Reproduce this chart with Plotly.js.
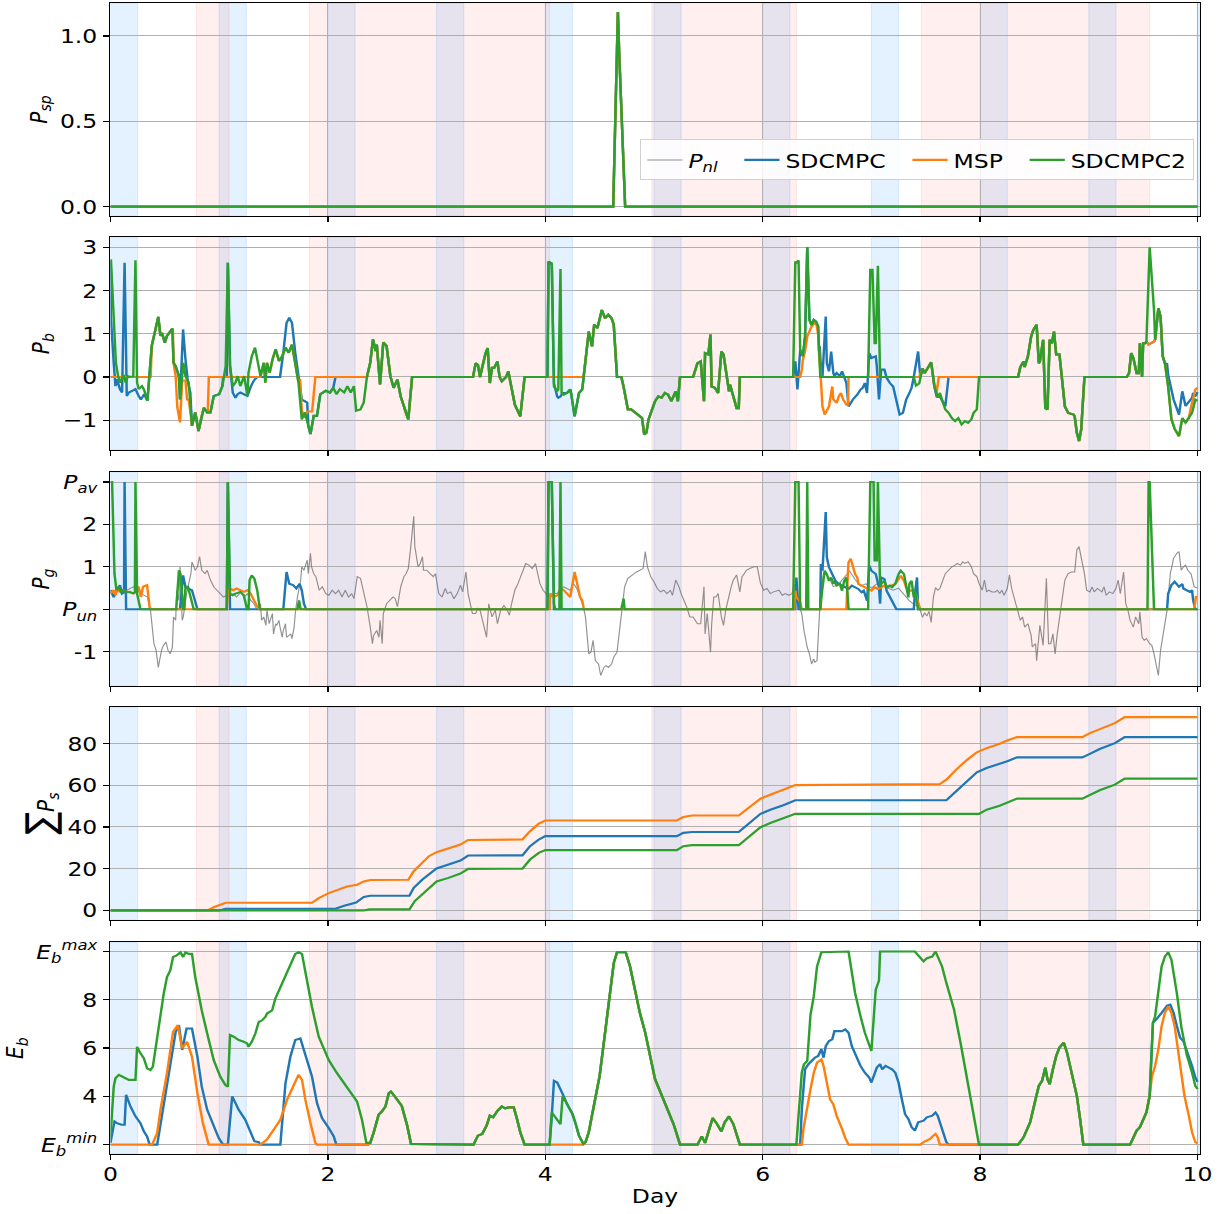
<!DOCTYPE html>
<html>
<head>
<meta charset="utf-8">
<script src="https://cdn.plot.ly/plotly-3.0.1.min.js"></script>
<style>
html,body{margin:0;padding:0;background:#fff;overflow:hidden;}
#chart{width:1041px;height:1214px;transform:scale(1.175,1);transform-origin:0 0;}
</style>
</head>
<body>
<div id="chart"></div>
<script>
// ---------------- DATA (day, value) ----------------
const blueBands = [[0,0.25],[1,1.25],[2,2.25],[3,3.25],[4,4.25],[5,5.25],[6,6.25],[7,7.25],[8,8.25],[9,9.25],[10,10.25]];
const redBands = [[0.79,1.09],[1.83,4.04],[4.98,6.31],[7.46,9.56]];

// Panel 1: P_sp
const pspAll = [[0,0],[4.625,0],[4.668,1.14],[4.68,0.9],[4.735,0],[10,0]];

// Panel 2: P_b (SDCMPC2 = base; other series differ in listed segments)
const pbGreen = [[0.0,2.70],[0.005,2.70],[0.05,0.33],[0.07,0.02],[0.09,-0.13],[0.12,0.05],[0.14,-0.13],[0.16,0.02],[0.18,0.0],[0.21,0.02],[0.23,2.70],[0.245,-0.13],[0.26,-0.28],[0.29,-0.21],[0.31,-0.30],[0.34,-0.55],[0.38,0.72],[0.40,0.95],[0.44,1.39],[0.46,0.95],[0.475,1.02],[0.50,0.79],[0.52,0.95],[0.57,1.12],[0.58,0.33],[0.60,0.25],[0.63,0.02],[0.64,-0.52],[0.67,0.33],[0.69,0.02],[0.72,-0.13],[0.75,-1.13],[0.78,-0.82],[0.81,-1.25],[0.84,-0.90],[0.86,-0.71],[0.89,-0.82],[0.92,-0.82],[0.95,-0.44],[1.00,-0.40],[1.03,-0.21],[1.06,0.25],[1.08,2.64],[1.10,0.25],[1.125,-0.21],[1.15,-0.13],[1.17,0.02],[1.195,-0.21],[1.23,0.02],[1.26,-0.44],[1.27,0.10],[1.30,0.48],[1.33,0.68],[1.36,0.33],[1.38,0.02],[1.41,0.33],[1.425,-0.13],[1.44,0.33],[1.465,0.10],[1.49,0.40],[1.52,0.64],[1.55,0.37],[1.58,0.48],[1.61,0.68],[1.64,0.56],[1.67,0.75],[1.695,0.33],[1.73,-0.13],[1.76,-0.98],[1.79,-0.82],[1.82,-1.13],[1.84,-1.32],[1.87,-0.90],[1.90,-0.90],[1.93,-0.40],[1.98,-0.32],[2.02,-0.36],[2.05,-0.25],[2.08,-0.40],[2.11,-0.28],[2.15,-0.36],[2.18,-0.21],[2.21,-0.36],[2.24,-0.21],[2.26,-0.78],[2.30,-0.75],[2.33,-0.59],[2.36,0.02],[2.39,0.33],[2.415,0.87],[2.44,0.60],[2.45,0.75],[2.48,-0.17],[2.51,0.80],[2.54,0.72],[2.575,0.02],[2.605,-0.25],[2.64,-0.06],[2.67,-0.45],[2.70,-0.68],[2.71,-0.79],[2.74,-0.98],[2.775,0.0],[3.335,0.0],[3.36,0.32],[3.38,0.28],[3.40,0.0],[3.42,0.25],[3.45,0.55],[3.47,0.67],[3.49,-0.14],[3.51,0.21],[3.53,0.21],[3.56,0.36],[3.58,0.0],[3.60,-0.10],[3.64,0.0],[3.66,0.13],[3.68,-0.14],[3.72,-0.64],[3.77,-0.91],[3.81,0.0],[4.02,0.0],[4.03,2.67],[4.06,2.63],[4.08,-0.22],[4.11,-0.33],[4.12,-0.29],[4.14,2.50],[4.15,-0.37],[4.17,-0.41],[4.20,-0.37],[4.23,-0.29],[4.24,-0.41],[4.27,-0.91],[4.31,-0.37],[4.34,-0.29],[4.36,0.17],[4.38,0.63],[4.40,1.05],[4.43,0.71],[4.45,1.21],[4.48,1.13],[4.50,1.32],[4.52,1.55],[4.55,1.36],[4.58,1.44],[4.61,1.36],[4.63,1.21],[4.66,0.0],[4.70,0.0],[4.72,-0.22],[4.76,-0.75],[4.79,-0.75],[4.81,-0.79],[4.86,-0.87],[4.89,-0.95],[4.91,-1.33],[4.93,-1.29],[4.95,-0.98],[4.98,-0.75],[5.01,-0.56],[5.04,-0.45],[5.07,-0.48],[5.10,-0.37],[5.13,-0.41],[5.16,-0.56],[5.20,-0.33],[5.22,-0.56],[5.24,0.0],[5.36,0.0],[5.40,0.32],[5.43,0.36],[5.46,-0.56],[5.47,0.55],[5.50,0.52],[5.52,0.98],[5.53,-0.22],[5.56,-0.25],[5.59,-0.37],[5.62,0.59],[5.64,0.52],[5.69,-0.33],[5.70,-0.18],[5.73,-0.45],[5.76,-0.72],[5.78,-0.72],[5.79,0.0],[6.28,0.0],[6.30,2.67],[6.31,2.63],[6.33,2.70],[6.345,0.63],[6.37,0.48],[6.39,0.94],[6.41,3.0],[6.43,1.32],[6.45,1.20],[6.47,1.32],[6.49,1.28],[6.51,1.17],[6.52,0.48],[6.53,0.0],[6.97,0.0],[6.99,2.48],[7.01,2.48],[7.03,0.78],[7.04,0.78],[7.06,2.57],[7.08,0.0],[7.39,0.0],[7.41,-0.20],[7.44,-0.15],[7.47,0.20],[7.49,0.09],[7.51,0.17],[7.55,0.34],[7.58,-0.22],[7.61,-0.48],[7.63,-0.37],[7.66,-0.60],[7.68,-0.75],[7.71,-0.83],[7.74,-0.95],[7.77,-1.02],[7.80,-0.95],[7.83,-1.10],[7.86,-1.02],[7.89,-1.06],[7.92,-0.98],[7.94,-0.83],[7.97,-0.75],[7.99,0.0],[8.35,0.0],[8.37,0.23],[8.40,0.36],[8.41,0.23],[8.44,0.48],[8.47,0.94],[8.49,1.09],[8.52,1.21],[8.54,0.32],[8.55,0.36],[8.58,0.86],[8.60,-0.72],[8.62,-0.75],[8.64,0.86],[8.66,0.78],[8.68,1.05],[8.70,0.52],[8.73,0.52],[8.75,0.0],[8.78,-0.68],[8.81,-0.83],[8.86,-0.87],[8.87,-0.91],[8.89,-1.29],[8.91,-1.48],[8.93,-1.22],[8.96,0.0],[9.35,0.0],[9.37,0.09],[9.39,0.55],[9.41,0.44],[9.44,0.09],[9.46,0.09],[9.47,0.78],[9.49,0.0],[9.50,0.78],[9.52,0.78],[9.53,0.82],[9.56,3.0],[9.60,1.55],[9.61,0.86],[9.63,1.48],[9.64,1.59],[9.66,1.40],[9.68,0.48],[9.70,0.32],[9.73,-0.22],[9.76,-0.98],[9.79,-1.20],[9.83,-1.37],[9.86,-0.95],[9.89,-1.06],[9.92,-0.95],[9.95,-0.83],[9.98,-0.52],[10.0,-0.55]];

const pbBlueSegs = [
 [[0.005,1.33],[0.03,0.33],[0.046,-0.21],[0.06,-0.05],[0.087,-0.28],[0.107,-0.36],[0.13,2.64],[0.15,-0.44],[0.169,-0.36],[0.20,-0.32],[0.23,-0.28],[0.26,-0.44],[0.28,-0.52],[0.31,-0.40],[0.34,-0.55]],
 [[0.64,-0.52],[0.668,1.10],[0.69,0.41],[0.713,-0.13],[0.735,-0.36]],
 [[1.036,0.0],[1.07,0.0]],
 [[1.10,0.25],[1.125,-0.36],[1.15,-0.48],[1.17,-0.40],[1.195,-0.36],[1.23,-0.40],[1.26,-0.44],[1.29,-0.23],[1.32,-0.08],[1.35,0.0],[1.56,0.0],[1.59,0.56],[1.62,1.25],[1.645,1.37],[1.67,1.25],[1.70,0.56],[1.73,-0.05],[1.76,-0.52],[1.78,-0.55],[1.81,-0.59]],
 [[2.07,0.0],[2.36,0.0]],
 [[4.06,2.60],[4.08,-0.15],[4.11,-0.45],[4.12,-0.48],[4.14,-0.45],[4.15,-0.41],[4.17,-0.37]],
 [[6.28,0.0],[6.30,0.36],[6.32,-0.29],[6.335,0.30]],
 [[6.525,0.71],[6.54,0.0],[6.55,0.0],[6.58,1.40],[6.59,0.32],[6.61,0.13],[6.63,0.59],[6.65,0.09],[6.66,0.02],[6.68,0.09],[6.71,0.02],[6.73,0.13],[6.74,0.05],[6.77,-0.14],[6.79,-0.68],[6.80,-0.64],[6.83,-0.52],[6.87,-0.41],[6.90,-0.29],[6.92,-0.25],[6.94,-0.14],[6.96,-0.37],[6.98,0.55],[7.00,0.44],[7.04,0.48],[7.05,0.25],[7.07,-0.52],[7.09,0.17],[7.12,0.17],[7.14,-0.02],[7.17,-0.14],[7.20,-0.22],[7.23,-0.52],[7.26,-0.87],[7.29,-0.83],[7.32,-0.52],[7.35,-0.37],[7.37,-0.25],[7.39,0.0],[7.41,0.32],[7.43,0.59],[7.45,0.0]],
 [[7.60,-0.45],[7.63,-0.45],[7.68,-0.68],[7.71,0.0],[7.99,0.0]],
 [[9.53,0.82],[9.55,0.75],[9.60,0.82],[9.61,0.86]],
 [[9.72,0.30],[9.73,0.05],[9.75,-0.22],[9.78,-0.52],[9.83,-0.87],[9.86,-0.33],[9.89,-0.67],[9.92,-0.56],[9.95,-0.48],[9.96,-0.37],[9.98,-0.45],[10.0,-0.35]]
];

const pbOrangeSegs = [
 [[0.0,0.0],[0.37,0.0]],
 [[0.575,1.0],[0.58,0.33],[0.60,0.02],[0.615,-0.70],[0.64,-1.05],[0.66,-0.08],[0.69,-0.08],[0.705,-0.52],[0.72,-0.52],[0.74,-0.90]],
 [[0.895,-0.85],[0.905,0.0],[1.38,0.0]],
 [[1.745,-0.05],[1.76,-0.78],[1.79,-0.94],[1.81,-0.80],[1.855,-0.80],[1.885,0.0],[2.36,0.0]],
 [[4.02,0.0],[4.35,0.0]],
 [[6.28,0.0],[6.345,0.0],[6.36,0.17],[6.37,0.40],[6.39,0.60],[6.41,0.94],[6.45,1.17],[6.47,1.24],[6.49,1.28],[6.51,1.0],[6.53,0.0],[6.55,-0.68],[6.57,-0.87],[6.59,-0.75],[6.61,-0.68],[6.64,-0.22],[6.65,-0.52],[6.68,-0.60],[6.70,-0.45],[6.72,-0.37],[6.74,-0.52],[6.77,-0.64],[6.785,-0.64],[6.79,0.0],[7.44,0.0]],
 [[7.59,-0.20],[7.60,-0.37],[7.62,0.0],[7.99,0.0]],
 [[9.53,0.82],[9.55,0.75],[9.60,0.82],[9.61,0.86]],
 [[9.94,-0.70],[9.96,-0.45],[9.98,-0.29],[10.0,-0.25]]
];

// Panel 3: P_g and net load P_nl
const pnl = [[0.00,0.37],[0.09,0.45],[0.15,0.45],[0.21,0.53],[0.28,0.37],[0.34,0.29],[0.37,-0.06],[0.40,-0.81],[0.42,-0.97],[0.44,-1.37],[0.47,-0.97],[0.48,-0.89],[0.51,-0.77],[0.53,-0.97],[0.55,-1.05],[0.57,-0.89],[0.58,-0.18],[0.60,-0.26],[0.61,0.45],[0.63,0.21],[0.64,1.0],[0.66,-0.26],[0.67,-0.18],[0.69,0.29],[0.70,0.37],[0.74,0.84],[0.75,1.12],[0.78,0.92],[0.80,1.0],[0.82,1.24],[0.84,0.92],[0.87,0.84],[0.89,0.92],[0.92,0.69],[0.95,0.53],[0.98,0.45],[1.01,0.37],[1.04,0.29],[1.07,0.33],[1.10,0.33],[1.13,0.37],[1.16,0.29],[1.20,0.41],[1.23,0.29],[1.26,0.37],[1.29,0.21],[1.32,0.13],[1.35,-0.02],[1.38,0.13],[1.39,-0.26],[1.41,-0.18],[1.43,-0.38],[1.44,-0.02],[1.46,-0.34],[1.47,-0.26],[1.49,-0.10],[1.50,-0.58],[1.52,-0.34],[1.53,-0.38],[1.55,-0.26],[1.56,-0.42],[1.58,-0.66],[1.59,-0.50],[1.61,-0.34],[1.62,-0.66],[1.66,-0.58],[1.67,-0.69],[1.69,-0.42],[1.70,-0.10],[1.72,0.29],[1.75,0.69],[1.76,1.0],[1.78,0.92],[1.81,1.16],[1.82,0.84],[1.84,1.32],[1.85,1.0],[1.87,0.84],[1.89,0.77],[1.92,0.45],[1.95,0.53],[1.98,0.37],[2.01,0.33],[2.04,0.45],[2.07,0.37],[2.10,0.45],[2.13,0.29],[2.16,0.45],[2.19,0.29],[2.22,0.37],[2.24,0.25],[2.27,0.77],[2.30,0.73],[2.33,0.37],[2.36,0.06],[2.39,-0.42],[2.41,-0.81],[2.42,-0.62],[2.45,-0.50],[2.47,-0.66],[2.48,-0.26],[2.50,-0.81],[2.51,-0.10],[2.54,0.13],[2.57,0.21],[2.60,0.29],[2.62,0.25],[2.64,0.06],[2.67,0.53],[2.70,0.77],[2.72,0.84],[2.74,0.96],[2.76,1.40],[2.79,2.19],[2.80,1.48],[2.83,1.0],[2.85,1.08],[2.87,1.24],[2.88,0.92],[2.91,0.92],[2.94,0.84],[2.97,0.77],[2.99,0.84],[3.02,0.37],[3.05,0.29],[3.08,0.49],[3.10,0.37],[3.13,0.41],[3.16,0.25],[3.19,0.37],[3.22,0.57],[3.24,0.41],[3.27,0.88],[3.29,0.37],[3.33,-0.10],[3.36,-0.10],[3.38,0.02],[3.40,-0.02],[3.43,-0.34],[3.46,-0.66],[3.48,0.13],[3.51,-0.18],[3.54,-0.02],[3.56,-0.34],[3.59,-0.02],[3.62,0.09],[3.65,-0.02],[3.67,-0.14],[3.69,0.13],[3.72,0.45],[3.75,0.61],[3.79,0.88],[3.82,1.08],[3.85,1.04],[3.88,0.96],[3.91,1.08],[3.93,0.84],[3.95,0.61],[3.98,0.45],[4.02,0.33],[4.05,0.29],[4.08,0.37],[4.11,0.37],[4.14,0.45],[4.17,0.53],[4.20,0.49],[4.23,0.45],[4.26,0.61],[4.29,0.49],[4.32,0.29],[4.35,0.06],[4.37,-0.18],[4.40,-1.05],[4.42,-1.01],[4.44,-0.73],[4.46,-1.21],[4.49,-1.29],[4.51,-1.56],[4.54,-1.37],[4.56,-1.33],[4.58,-1.37],[4.61,-1.29],[4.63,-1.13],[4.66,-1.01],[4.68,-0.58],[4.70,-0.10],[4.72,0.29],[4.73,0.53],[4.76,0.73],[4.78,0.77],[4.81,0.81],[4.84,0.88],[4.87,0.92],[4.90,0.96],[4.92,1.36],[4.94,1.0],[4.97,0.77],[5.00,0.65],[5.03,0.49],[5.06,0.41],[5.09,0.45],[5.12,0.37],[5.15,0.45],[5.17,0.33],[5.20,0.69],[5.23,0.53],[5.25,0.37],[5.28,0.21],[5.30,0.06],[5.33,-0.18],[5.36,-0.18],[5.40,-0.34],[5.43,-0.34],[5.46,0.53],[5.47,-0.58],[5.49,-0.10],[5.52,-1.01],[5.53,-0.38],[5.55,0.29],[5.57,0.29],[5.59,0.37],[5.62,-0.18],[5.64,-0.38],[5.66,-0.02],[5.69,0.37],[5.71,0.53],[5.73,0.69],[5.76,0.81],[5.79,0.41],[5.81,0.77],[5.83,0.84],[5.85,0.92],[5.88,0.96],[5.92,1.0],[5.95,1.0],[5.98,0.61],[6.01,0.45],[6.04,0.49],[6.07,0.37],[6.10,0.41],[6.15,0.45],[6.18,0.33],[6.21,0.37],[6.24,0.33],[6.27,0.37],[6.29,0.60],[6.31,0.30],[6.34,0.05],[6.36,-0.11],[6.38,-0.50],[6.41,-0.90],[6.43,-1.05],[6.45,-1.29],[6.47,-1.17],[6.48,-1.25],[6.50,-1.21],[6.51,-0.66],[6.53,0.28],[6.56,0.84],[6.59,0.80],[6.62,0.70],[6.65,0.53],[6.70,0.60],[6.75,0.75],[6.80,0.90],[6.85,0.70],[6.90,0.55],[6.95,0.60],[7.00,0.50],[7.05,0.60],[7.10,0.55],[7.15,0.50],[7.20,0.45],[7.25,0.50],[7.30,0.35],[7.35,0.20],[7.40,0.10],[7.44,0.05],[7.47,-0.19],[7.49,-0.08],[7.51,-0.16],[7.53,-0.05],[7.55,-0.31],[7.57,0.28],[7.59,0.51],[7.61,0.45],[7.63,0.49],[7.65,0.61],[7.68,0.84],[7.71,0.92],[7.74,1.0],[7.77,1.04],[7.79,1.08],[7.82,1.04],[7.84,1.12],[7.86,1.08],[7.89,1.12],[7.92,1.0],[7.94,0.84],[7.97,0.77],[7.99,0.61],[8.02,0.45],[8.04,0.69],[8.06,0.41],[8.08,0.45],[8.11,0.41],[8.14,0.41],[8.16,0.45],[8.18,0.37],[8.20,0.45],[8.22,0.33],[8.25,0.49],[8.27,0.81],[8.29,0.49],[8.32,0.21],[8.35,-0.02],[8.37,-0.26],[8.39,-0.18],[8.41,-0.42],[8.44,-0.34],[8.47,-0.62],[8.48,-0.89],[8.51,-0.81],[8.52,-1.21],[8.54,-0.73],[8.55,-0.38],[8.58,-0.85],[8.60,0.37],[8.61,0.73],[8.63,-0.81],[8.65,-0.81],[8.67,-0.58],[8.69,-1.05],[8.71,-0.58],[8.73,-0.18],[8.75,0.13],[8.78,0.69],[8.81,0.84],[8.84,0.88],[8.87,0.88],[8.89,1.40],[8.91,1.48],[8.93,1.24],[8.96,0.84],[8.98,0.45],[9.01,0.41],[9.03,0.53],[9.05,0.41],[9.08,0.49],[9.12,0.41],[9.14,0.53],[9.16,0.33],[9.19,0.41],[9.22,0.37],[9.25,0.49],[9.27,0.69],[9.29,0.37],[9.32,0.88],[9.34,0.13],[9.36,-0.02],[9.38,-0.26],[9.41,-0.42],[9.43,-0.18],[9.46,-0.34],[9.47,-0.06],[9.49,-0.66],[9.51,-0.73],[9.53,-0.69],[9.56,-0.81],[9.58,-0.85],[9.60,-1.05],[9.62,-1.37],[9.64,-1.56],[9.66,-0.97],[9.69,-0.50],[9.72,-0.02],[9.75,0.84],[9.78,1.20],[9.81,1.32],[9.83,1.36],[9.85,0.92],[9.87,1.0],[9.89,1.04],[9.91,0.92],[9.94,0.84],[9.97,0.53],[10.0,0.50]];

const pgGreen = [[0,3.0],[0.015,3.0],[0.037,0.84],[0.055,0.45],[0.077,0.53],[0.098,0.41],[0.12,0.45],[0.15,0.40],[0.18,0.40],[0.21,0.38],[0.225,0.40],[0.23,3.0],[0.245,0.37],[0.276,0.0],[0.605,0.0],[0.63,0.92],[0.644,0.84],[0.66,0.13],[0.67,0.0],[0.68,0.0],[0.69,0.53],[0.713,0.53],[0.736,0.29],[0.766,0.0],[1.07,0.0],[1.08,3.0],[1.10,0.37],[1.125,0.33],[1.15,0.37],[1.195,0.41],[1.226,0.33],[1.257,0.0],[1.27,0.0],[1.28,0.69],[1.30,0.80],[1.324,0.72],[1.35,0.45],[1.375,0.0],[1.72,0.0],[1.735,0.21],[1.75,0.0],[4.02,0.0],[4.03,3.0],[4.06,3.0],[4.08,0.13],[4.09,0.0],[4.13,0.0],[4.14,3.0],[4.15,0.0],[4.70,0.0],[4.72,0.25],[4.73,0.0],[6.28,0.0],[6.30,3.0],[6.33,3.0],[6.345,0.0],[6.40,0.0],[6.41,3.0],[6.42,0.0],[6.53,0.0],[6.545,0.40],[6.57,0.91],[6.59,0.83],[6.61,0.67],[6.63,0.75],[6.65,0.60],[6.66,0.67],[6.68,0.56],[6.71,0.60],[6.73,0.44],[6.75,0.67],[6.77,0.75],[6.79,0.0],[6.97,0.0],[6.99,3.0],[7.02,3.0],[7.03,1.15],[7.05,1.15],[7.06,3.0],[7.08,0.52],[7.09,0.60],[7.12,0.67],[7.14,0.52],[7.17,0.56],[7.19,0.52],[7.22,0.60],[7.25,0.83],[7.27,0.91],[7.30,0.83],[7.32,0.52],[7.34,0.28],[7.35,0.60],[7.37,0.67],[7.39,0.28],[7.40,0.44],[7.42,0.13],[7.43,0.0],[9.54,0.0],[9.55,3.0],[9.56,3.0],[9.60,0.0],[10.0,0.0]];

const pgBlue = [[0,0.45],[0.03,0.29],[0.06,0.45],[0.087,0.57],[0.107,0.37],[0.125,0.40],[0.13,3.0],[0.144,0.0],[0.64,0.0],[0.668,0.80],[0.69,0.53],[0.713,0.49],[0.75,0.45],[0.78,0.13],[0.80,0.0],[1.07,0.0],[1.08,3.0],[1.10,0.0],[1.59,0.0],[1.62,0.88],[1.645,0.60],[1.68,0.57],[1.71,0.49],[1.74,0.60],[1.76,0.45],[1.78,0.13],[1.80,0.0],[4.02,0.0],[4.03,3.0],[4.06,3.0],[4.08,0.0],[6.30,0.0],[6.31,0.75],[6.33,0.0],[6.53,0.0],[6.535,1.07],[6.55,0.91],[6.58,2.29],[6.59,1.23],[6.61,0.99],[6.64,0.83],[6.67,0.67],[6.70,0.60],[6.73,0.56],[6.76,0.52],[6.79,0.48],[6.82,0.56],[6.85,0.52],[6.88,0.48],[6.91,0.40],[6.93,0.44],[6.96,0.20],[6.98,1.03],[7.00,0.91],[7.04,0.83],[7.07,0.52],[7.08,0.13],[7.09,0.75],[7.12,0.71],[7.14,0.44],[7.17,0.28],[7.20,0.13],[7.23,0.0],[7.39,0.0],[7.40,0.36],[7.42,0.75],[7.43,0.0],[9.72,0.0],[9.73,0.37],[9.76,0.57],[9.79,0.65],[9.83,0.53],[9.86,0.60],[9.87,0.49],[9.90,0.45],[9.93,0.41],[9.95,0.45],[9.96,0.21],[9.98,0.0],[10.0,0.0]];

const pgOrange = [[0,0.37],[0.03,0.45],[0.046,0.33],[0.06,0.45],[0.09,0.41],[0.12,0.45],[0.15,0.41],[0.18,0.41],[0.21,0.37],[0.23,0.41],[0.26,0.53],[0.28,0.29],[0.30,0.53],[0.337,0.57],[0.36,0.05],[0.375,0.0],[1.07,0.0],[1.08,0.45],[1.10,0.49],[1.13,0.45],[1.16,0.49],[1.20,0.45],[1.23,0.41],[1.26,0.45],[1.29,0.37],[1.32,0.21],[1.35,0.05],[1.365,0.0],[4.04,0.0],[4.045,0.37],[4.08,0.29],[4.11,0.33],[4.14,0.49],[4.17,0.45],[4.20,0.37],[4.23,0.29],[4.27,0.88],[4.29,0.61],[4.32,0.29],[4.34,0.21],[4.355,0.0],[6.29,0.0],[6.30,0.44],[6.31,0.28],[6.34,0.20],[6.36,0.0],[6.77,0.0],[6.785,0.91],[6.79,1.11],[6.81,1.19],[6.83,1.03],[6.85,0.83],[6.87,0.75],[6.88,0.60],[6.91,0.56],[6.94,0.52],[6.97,0.48],[7.00,0.44],[7.03,0.52],[7.06,0.48],[7.09,0.52],[7.12,0.56],[7.15,0.52],[7.19,0.56],[7.22,0.60],[7.25,0.71],[7.27,0.79],[7.30,0.67],[7.32,0.52],[7.35,0.44],[7.38,0.44],[7.41,0.33],[7.43,0.13],[7.45,0.0],[9.97,0.0],[9.985,0.29],[10.0,0.30]];

// Panel 4: cumulative shed power
const psBlue = [[0,0],[1.0,0],[1.06,0.8],[2.07,0.8],[2.15,2.2],[2.26,3.8],[2.33,6.4],[2.39,7.0],[2.75,7.0],[2.79,10.8],[2.87,14.8],[3.0,20.1],[3.11,22.0],[3.22,23.9],[3.29,26.3],[3.79,26.4],[3.86,30.8],[3.94,34.0],[4.0,35.6],[5.21,35.6],[5.27,37.2],[5.35,37.6],[5.78,37.6],[5.89,42.3],[5.98,46.3],[6.07,48.3],[6.19,50.4],[6.30,52.8],[7.69,52.8],[7.78,57.1],[7.88,61.9],[7.97,66.2],[8.06,68.3],[8.18,70.2],[8.25,71.5],[8.34,73.4],[8.94,73.4],[9.01,75.1],[9.10,77.4],[9.24,80.2],[9.33,83.1],[10.0,83.1]];
const psOrange = [[0,0],[0.895,0],[0.95,1.5],[1.06,3.7],[1.855,3.7],[1.916,5.9],[2.008,8.3],[2.084,9.9],[2.176,11.5],[2.268,12.3],[2.33,13.9],[2.39,14.6],[2.74,14.7],[2.79,18.8],[2.87,22.8],[2.93,26.0],[3.0,27.9],[3.11,29.7],[3.22,31.6],[3.29,33.8],[3.79,34.0],[3.86,38.0],[3.94,41.6],[4.0,43.1],[5.21,43.2],[5.27,44.8],[5.35,45.5],[5.78,45.5],[5.89,49.9],[5.98,53.6],[6.07,55.5],[6.19,57.9],[6.30,60.1],[7.63,60.6],[7.69,62.7],[7.78,67.5],[7.88,72.2],[7.97,75.8],[8.06,77.8],[8.18,79.9],[8.25,81.5],[8.34,83.1],[8.94,83.1],[9.01,85.0],[9.10,86.9],[9.24,89.8],[9.33,92.7],[10.0,92.7]];
const psGreen = [[0,0],[2.33,0],[2.38,0.5],[2.75,0.5],[2.80,4.5],[2.87,7.7],[3.0,13.9],[3.11,15.6],[3.22,17.7],[3.29,19.9],[3.79,20.0],[3.86,24.4],[3.94,27.6],[4.0,28.9],[5.21,28.9],[5.27,30.8],[5.35,31.3],[5.78,31.3],[5.89,35.9],[5.98,39.9],[6.07,41.9],[6.19,44.0],[6.30,46.3],[7.99,46.3],[8.06,48.3],[8.18,50.2],[8.25,51.8],[8.34,53.6],[8.94,53.6],[9.01,55.5],[9.10,57.6],[9.24,60.3],[9.33,63.2],[10.0,63.2]];

// Panel 5: battery energy (SDCMPC2 = base)
const ebGreen = [[0,2.30],[0.03,4.40],[0.046,4.75],[0.077,4.89],[0.107,4.82],[0.138,4.75],[0.169,4.68],[0.23,4.68],[0.245,6.05],[0.276,5.78],[0.307,5.58],[0.337,5.16],[0.368,5.09],[0.39,5.23],[0.43,6.47],[0.46,7.29],[0.49,8.25],[0.52,8.94],[0.55,9.22],[0.576,9.77],[0.61,9.84],[0.644,9.97],[0.668,9.77],[0.69,9.97],[0.72,9.90],[0.75,9.90],[0.78,8.94],[0.81,8.25],[0.84,7.56],[0.89,6.60],[0.95,5.50],[1.01,4.82],[1.057,4.47],[1.08,4.40],[1.10,6.54],[1.134,6.47],[1.18,6.33],[1.226,6.26],[1.257,6.19],[1.27,6.05],[1.30,6.26],[1.333,6.60],[1.364,7.08],[1.395,7.15],[1.425,7.29],[1.44,7.43],[1.487,7.56],[1.517,8.05],[1.563,8.53],[1.61,8.94],[1.655,9.49],[1.70,9.90],[1.73,9.97],[1.762,9.90],[1.808,8.80],[1.854,7.70],[1.916,6.47],[2.008,5.50],[2.084,4.96],[2.176,4.40],[2.268,3.79],[2.314,3.03],[2.354,2.07],[2.39,2.07],[2.42,2.48],[2.467,3.24],[2.498,3.38],[2.53,3.58],[2.56,4.13],[2.58,4.20],[2.61,4.05],[2.64,3.85],[2.68,3.60],[2.73,2.78],[2.765,2.03],[3.34,2.0],[3.38,2.37],[3.42,2.44],[3.46,2.78],[3.49,3.20],[3.52,3.13],[3.56,3.40],[3.60,3.58],[3.63,3.50],[3.66,3.54],[3.71,3.54],[3.74,3.06],[3.77,2.51],[3.81,2.0],[4.04,2.0],[4.06,3.33],[4.09,3.13],[4.14,2.85],[4.16,4.02],[4.20,3.68],[4.25,3.27],[4.28,2.85],[4.31,2.37],[4.35,2.03],[4.37,2.10],[4.40,2.51],[4.43,3.20],[4.46,3.88],[4.50,4.85],[4.55,6.63],[4.60,8.28],[4.63,9.52],[4.66,9.97],[4.74,9.97],[4.78,9.38],[4.83,8.28],[4.87,7.46],[4.92,6.63],[4.97,5.53],[5.01,4.71],[5.06,4.16],[5.12,3.47],[5.18,2.85],[5.24,2.0],[5.40,2.0],[5.44,2.34],[5.47,2.07],[5.50,2.51],[5.54,3.10],[5.58,2.85],[5.62,2.54],[5.65,2.92],[5.69,3.17],[5.73,2.85],[5.79,2.0],[6.31,2.0],[6.34,3.90],[6.36,5.0],[6.38,5.33],[6.41,5.47],[6.44,7.39],[6.47,8.14],[6.50,9.38],[6.54,9.97],[6.79,10.0],[6.82,9.10],[6.85,8.28],[6.90,7.32],[6.94,6.63],[7.00,5.88],[7.02,7.32],[7.04,8.42],[7.07,8.80],[7.08,10.0],[7.40,10.0],[7.45,9.72],[7.48,9.59],[7.51,9.72],[7.56,9.79],[7.59,10.0],[7.62,9.72],[7.65,9.38],[7.69,8.69],[7.76,7.60],[7.82,6.22],[7.88,4.71],[7.94,3.20],[7.99,2.0],[8.35,2.0],[8.40,2.30],[8.46,2.92],[8.51,3.88],[8.54,4.43],[8.57,4.64],[8.60,5.19],[8.62,4.71],[8.64,4.50],[8.67,5.12],[8.70,5.67],[8.73,6.02],[8.77,6.22],[8.80,5.81],[8.83,5.26],[8.86,4.57],[8.89,4.02],[8.92,3.06],[8.95,2.0],[9.38,2.0],[9.41,2.30],[9.44,2.58],[9.47,2.72],[9.50,3.06],[9.53,3.33],[9.56,4.02],[9.59,7.04],[9.61,7.32],[9.64,8.28],[9.67,9.38],[9.70,9.79],[9.73,9.97],[9.76,9.66],[9.81,8.28],[9.85,6.91],[9.90,5.74],[9.95,4.98],[9.98,4.43],[10.0,4.30]];

const ebBlueSegs = [
 [[0,2.07],[0.037,2.96],[0.06,2.89],[0.10,2.82],[0.13,2.82],[0.144,4.06],[0.184,3.58],[0.23,3.17],[0.276,2.89],[0.307,2.55],[0.337,2.34],[0.36,2.0],[0.43,2.0],[0.49,3.58],[0.55,5.37],[0.60,6.67],[0.63,6.95],[0.66,5.92],[0.70,6.81],[0.75,6.81],[0.80,5.64],[0.84,4.40],[0.89,3.44],[0.95,2.76],[0.996,2.27],[1.036,2.0],[1.08,2.0],[1.12,4.0],[1.18,3.44],[1.24,3.03],[1.287,2.48],[1.324,2.14],[1.364,2.10],[1.38,2.0],[1.563,2.0],[1.61,4.54],[1.655,5.64],[1.70,6.33],[1.747,6.40],[1.778,5.92],[1.808,5.50],[1.854,4.82],[1.90,3.72],[1.946,3.10],[2.008,2.69],[2.054,2.34],[2.078,2.0],[2.37,2.0]],
 [[4.04,2.0],[4.06,3.2],[4.08,4.64],[4.11,4.57],[4.14,4.30],[4.165,4.05]],
 [[6.31,2.0],[6.345,2.0],[6.36,3.47],[6.39,5.12],[6.42,5.33],[6.45,5.47],[6.48,5.60],[6.51,5.67],[6.54,5.95],[6.56,5.60],[6.58,6.08],[6.61,6.29],[6.64,6.36],[6.66,6.70],[6.70,6.70],[6.73,6.70],[6.76,6.77],[6.79,6.63],[6.82,6.08],[6.87,5.53],[6.90,5.26],[6.94,4.98],[6.98,4.78],[7.00,4.57],[7.02,4.85],[7.05,5.19],[7.08,5.33],[7.10,5.12],[7.13,5.26],[7.16,5.19],[7.19,5.12],[7.22,4.98],[7.25,4.57],[7.28,3.88],[7.31,3.26],[7.34,3.06],[7.37,2.72],[7.40,2.58],[7.43,2.92],[7.48,2.99],[7.51,3.13],[7.56,3.20],[7.59,3.33],[7.61,3.20],[7.63,2.92],[7.66,2.51],[7.69,2.10],[7.71,2.0],[7.99,2.0]],
 [[9.60,7.10],[9.62,7.18],[9.67,7.46],[9.72,7.76],[9.75,7.80],[9.78,7.46],[9.81,6.91],[9.84,6.43],[9.87,6.29],[9.92,5.67],[9.95,5.26],[9.98,4.78],[10.0,4.60]]
];
const ebOrangeSegs = [
 [[0,2.0],[0.383,2.0],[0.43,2.48],[0.46,3.44],[0.52,4.96],[0.576,6.67],[0.62,6.95],[0.66,5.99],[0.705,6.26],[0.75,5.64],[0.80,4.13],[0.85,2.89],[0.904,2.0],[1.38,2.0],[1.44,2.21],[1.50,2.62],[1.563,3.03],[1.625,3.86],[1.67,4.27],[1.73,4.89],[1.762,4.68],[1.793,3.86],[1.84,2.89],[1.885,2.07],[1.90,2.0],[2.37,2.0]],
 [[4.04,2.0],[4.35,2.0]],
 [[6.31,2.0],[6.36,2.0],[6.375,2.65],[6.41,3.60],[6.44,4.30],[6.47,4.98],[6.50,5.40],[6.54,5.53],[6.56,5.26],[6.59,4.57],[6.62,3.88],[6.65,3.67],[6.68,3.20],[6.73,2.65],[6.76,2.27],[6.79,2.0],[7.45,2.0],[7.48,2.10],[7.51,2.16],[7.54,2.23],[7.57,2.37],[7.59,2.44],[7.61,2.30],[7.63,2.0],[7.99,2.0]],
 [[9.58,4.8],[9.61,5.26],[9.64,5.95],[9.67,6.91],[9.70,7.46],[9.73,7.73],[9.76,7.46],[9.79,6.91],[9.82,5.95],[9.85,4.85],[9.88,4.02],[9.92,3.20],[9.95,2.51],[9.98,2.10],[10.0,2.05]]
];

// ---------------- BUILD ----------------
function xy(pairs){ return {x: pairs.map(p=>p[0]), y: pairs.map(p=>p[1])}; }
function withSegments(base, segs){
  const pts = base.filter(p => !segs.some(s => p[0] >= s[0][0] && p[0] <= s[s.length-1][0]));
  segs.forEach(s => s.forEach(p => pts.push(p)));
  pts.sort((a,b)=>a[0]-b[0]);
  return pts;
}

const C_BLUE = '#1f77b4', C_ORANGE = '#ff7f0e', C_GREEN = '#2ca02c';
const LW = 2.1;
const traces = [];
function line(pairs, color, ax, name, show, width){
  const d = xy(pairs);
  traces.push({type:'scatter', mode:'lines', x:d.x, y:d.y, xaxis:'x'+(ax===1?'':ax), yaxis:'y'+(ax===1?'':ax),
    name:name, showlegend:!!show, line:{color:color, width:width||LW}, hoverinfo:'skip'});
}
const SP = '\u00a0\u00a0';
// legend order: P_nl, SDCMPC, MSP, SDCMPC2
line(pnl, 'rgba(110,110,110,0.75)', 3, '<i>P<sub>nl</sub></i>' + SP, true, 1);
line(pspAll, C_BLUE, 1, 'SDCMPC' + SP, true);
line(pspAll, C_ORANGE, 1, 'MSP' + SP, true);
line(pspAll, C_GREEN, 1, 'SDCMPC2', true);

line(withSegments(pbGreen, pbBlueSegs), C_BLUE, 2, 'SDCMPC');
line(withSegments(pbGreen, pbOrangeSegs), C_ORANGE, 2, 'MSP');
line(pbGreen, C_GREEN, 2, 'SDCMPC2');

line(pgBlue, C_BLUE, 3, 'SDCMPC');
line(pgOrange, C_ORANGE, 3, 'MSP');
line(pgGreen, C_GREEN, 3, 'SDCMPC2');

line(psBlue, C_BLUE, 4, 'SDCMPC');
line(psOrange, C_ORANGE, 4, 'MSP');
line(psGreen, C_GREEN, 4, 'SDCMPC2');

line(withSegments(ebGreen, ebBlueSegs), C_BLUE, 5, 'SDCMPC');
line(withSegments(ebGreen, ebOrangeSegs), C_ORANGE, 5, 'MSP');
line(ebGreen, C_GREEN, 5, 'SDCMPC2');

// ---------------- LAYOUT ----------------
const XMAX = 10.02;
const domains = [[0.8149,1.0],[0.6116,0.7964],[0.4069,0.5923],[0.2033,0.3881],[0.0,0.1839]];
const shapes = [];
for (let k=1;k<=5;k++){
  const xr = 'x'+(k===1?'':k), yr = 'y'+(k===1?'':k)+' domain';
  blueBands.forEach(b => shapes.push({type:'rect', layer:'below', xref:xr, yref:yr, x0:b[0], x1:Math.min(b[1],XMAX), y0:0, y1:1,
    fillcolor:'rgba(30,144,255,0.12)', line:{width:1, color:'rgba(30,144,255,0.14)'}}));
  redBands.forEach(b => shapes.push({type:'rect', layer:'below', xref:xr, yref:yr, x0:b[0], x1:Math.min(b[1],XMAX), y0:0, y1:1,
    fillcolor:'rgba(255,40,40,0.075)', line:{width:1, color:'rgba(255,40,40,0.09)'}}));
}

const FONT = 'DejaVu Sans, Liberation Sans, sans-serif';
function xaxis(k){
  return {domain:[0,1], range:[0,XMAX], anchor:'y'+(k===1?'':k), matches: k===1?undefined:'x',
    tickvals:[0,2,4,6,8,10], showticklabels:k===5, ticks:'outside', ticklen:5, tickwidth:1.1, tickcolor:'#000',
    ticklabelstandoff:-3,
    showgrid:true, gridcolor:'#b0b0b0', gridwidth:1, zeroline:false,
    showline:true, linecolor:'#000', linewidth:1.2, mirror:true,
    tickfont:{size:20, family:FONT, color:'#000'},
    title: k===5 ? {text:'Day', font:{size:20, family:FONT, color:'#000'}, standoff:3} : {text:''}};
}
function yaxis(k, range, tv, tt, title){
  return {domain:domains[k-1], range:range, anchor:'x'+(k===1?'':k), tickvals:tv, ticktext:tt,
    ticks:'outside', ticklen:5, tickwidth:1.1, tickcolor:'#000', ticklabelstandoff:1,
    showgrid:true, gridcolor:'#b0b0b0', gridwidth:1, zeroline:false,
    showline:true, linecolor:'#000', linewidth:1.2, mirror:true,
    tickfont:{size:20, family:FONT, color:'#000'},
    title:{text:title, font:{size:20, family:FONT, color:'#000'}, standoff:5}};
}

const layout = {
  width:1041, height:1214, margin:{l:94, r:20, t:3, b:60},
  paper_bgcolor:'#fff', plot_bgcolor:'#fff',
  font:{family:FONT, size:20, color:'#000'},
  showlegend:true,
  legend:{orientation:'h', x:0.9945, xanchor:'right', y:0.8815, yanchor:'top',
    bgcolor:'rgba(255,255,255,0.85)', bordercolor:'#d0d0d0', borderwidth:1,
    font:{size:20, family:FONT, color:'#000'}, itemwidth:30, tracegroupgap:0},
  shapes: shapes,
  xaxis: xaxis(1), xaxis2: xaxis(2), xaxis3: xaxis(3), xaxis4: xaxis(4), xaxis5: xaxis(5),
  yaxis: yaxis(1, [-0.055,1.193], [0,0.5,1], ['0.0','0.5','1.0'], '<i>P</i><sub><i>sp</i></sub>'),
  yaxis2: yaxis(2, [-1.69,3.23], [-1,0,1,2,3], ['\u22121','0','1','2','3'], '<i>P</i><sub><i>b</i></sub>'),
  yaxis3: yaxis(3, [-1.80,3.23], [-1,0,1,2,3], ['-1','<i>P</i><sub><i>un</i></sub>','1','2','<i>P</i><sub><i>av</i></sub>'], '<i>P</i><sub><i>g</i></sub>'),
  yaxis4: yaxis(4, [-4.6,97.4], [0,20,40,60,80], ['0','20','40','60','80'], '<span style="font-size:34px">\u2211</span><i>P</i><sub><i>s</i></sub>'),
  yaxis5: yaxis(5, [1.61,10.38], [2,4,6,8,10], ['<i>E</i><sub><i>b</i></sub><sup><i>min</i></sup>','4','6','8','<i>E</i><sub><i>b</i></sub><sup><i>max</i></sup>'], '<i>E</i><sub><i>b</i></sub>')
};

Plotly.newPlot('chart', traces, layout, {displayModeBar:false, staticPlot:true});
</script>
</body>
</html>
